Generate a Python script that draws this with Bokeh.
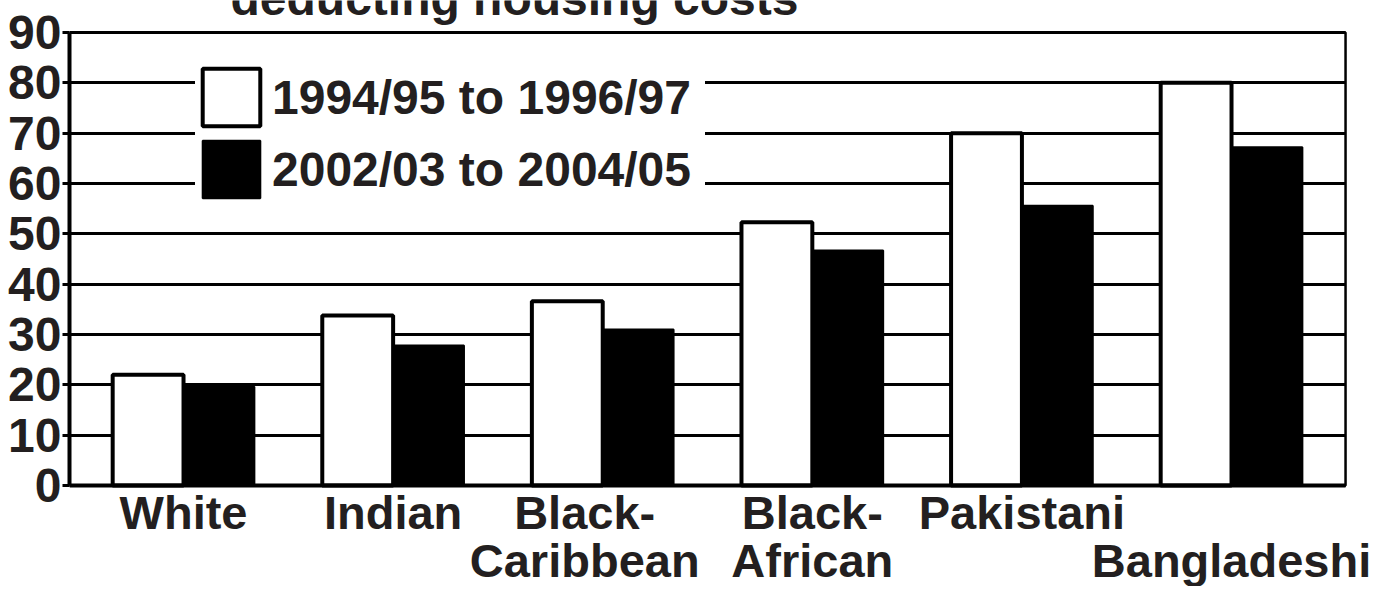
from bokeh.plotting import figure
from bokeh.models import (Range1d, FixedTicker, Legend, LegendItem, Label, BoxAnnotation)
from bokeh.embed import file_html
from bokeh.resources import INLINE

# ---- data ----
categories = ["White", "Indian", "Black-Caribbean", "Black-African", "Pakistani", "Bangladeshi"]
label_line1 = ["White", "Indian", "Black-", "Black-", "Pakistani", ""]
label_line2 = ["", "", "Caribbean", "African", "", "Bangladeshi"]
period1_name = "1994/95 to 1996/97"
period2_name = "2002/03 to 2004/05"
period1 = [22.0, 33.8, 36.6, 52.3, 70.0, 80.0]
period2 = [19.6, 27.8, 31.0, 46.7, 55.6, 67.2]
y_ticks = [0, 10, 20, 30, 40, 50, 60, 70, 80, 90]
title_text = "deducting housing costs"

FONT = "Liberation Sans"
TXT = "#231f20"
FS = "48px"
FS_CAT = "47px"

W, H = 1382, 586
LEFT = 69
PX_X = 209.6          # pixels per category step
X0 = -0.544           # frame left edge (data)
XB = 5.544            # plot border right (data)
PX_Y = 5.033          # pixels per unit
Y0_PX = 485           # pixel row of value 0

x_end = X0 + (W - LEFT) / PX_X
y_end = Y0_PX / PX_Y
y_start = -(H - Y0_PX) / PX_Y

xs = list(range(len(categories)))
bw = 0.338

p = figure(width=W, height=H, output_backend="svg", toolbar_location=None,
           x_range=Range1d(X0, x_end), y_range=Range1d(y_start, y_end),
           x_axis_location=None)
p.min_border_left = LEFT
p.min_border_right = 0
p.min_border_top = 0
p.min_border_bottom = 0
p.background_fill_color = "white"
p.border_fill_color = "white"
p.outline_line_color = None

r1 = p.vbar(x=[x - bw / 2 for x in xs], top=period1, width=bw, bottom=0,
            fill_color="white", line_color="black", line_width=4)
r2 = p.vbar(x=[x + bw / 2 for x in xs], top=period2, width=bw, bottom=0,
            fill_color="black", line_color="black", line_width=2)

# y axis
yax = p.yaxis[0]
yax.bounds = (0, 90)
yax.ticker = FixedTicker(ticks=y_ticks)
yax.major_label_text_font = FONT
yax.major_label_text_font_style = "bold"
yax.major_label_text_font_size = FS
yax.major_label_text_color = TXT
yax.major_label_standoff = 1
yax.major_tick_in = 0
yax.major_tick_out = 7
yax.major_tick_line_width = 3
yax.minor_tick_line_color = None
yax.axis_line_width = 4

p.xgrid.grid_line_color = None
p.ygrid.ticker = FixedTicker(ticks=y_ticks)
p.ygrid.grid_line_color = "black"
p.ygrid.grid_line_width = 3
p.ygrid.cross_bounds = (X0, XB)

# plot border box and thick base line
p.add_layout(BoxAnnotation(left=X0, right=XB, bottom=0, top=90, fill_alpha=0,
                           line_color="black", line_width=2.5, line_alpha=1))
p.add_layout(BoxAnnotation(left=X0, right=XB, bottom=0, top=0, fill_alpha=0,
                           line_color="black", line_width=4, line_alpha=1))

# category labels (two lines, staggered)
offsets = [0, 0, -0.086, 0.0, 0, 0]
for i, (l1, l2) in enumerate(zip(label_line1, label_line2)):
    if l1:
        p.add_layout(Label(x=xs[i] + offsets[i], y=-5.36, text=l1, text_align="center",
                           text_baseline="alphabetic", text_font=FONT, text_font_style="bold",
                           text_font_size=FS_CAT, text_color=TXT))
    if l2:
        p.add_layout(Label(x=xs[i] + offsets[i], y=-14.9, text=l2, text_align="center",
                           text_baseline="alphabetic", text_font=FONT, text_font_style="bold",
                           text_font_size=FS_CAT, text_color=TXT))

# cut-off title at the top
p.add_layout(Label(x=0.224, y=96.76, text=title_text, text_align="left",
                   text_baseline="alphabetic", text_font=FONT, text_font_style="bold",
                   text_font_size=FS, text_color=TXT))

legend = Legend(items=[LegendItem(label=period1_name, renderers=[r1]),
                       LegendItem(label=period2_name, renderers=[r2])],
                location=(126, H - 205), glyph_width=72, glyph_height=72,
                label_text_font=FONT, label_text_font_style="bold",
                label_text_font_size=FS, label_text_color=TXT,
                spacing=-5, padding=0, margin=0, label_standoff=5, label_width=433,
                background_fill_color="white", background_fill_alpha=1.0,
                border_line_alpha=0)
p.add_layout(legend)

open("out.html", "w").write(file_html(p, INLINE))
